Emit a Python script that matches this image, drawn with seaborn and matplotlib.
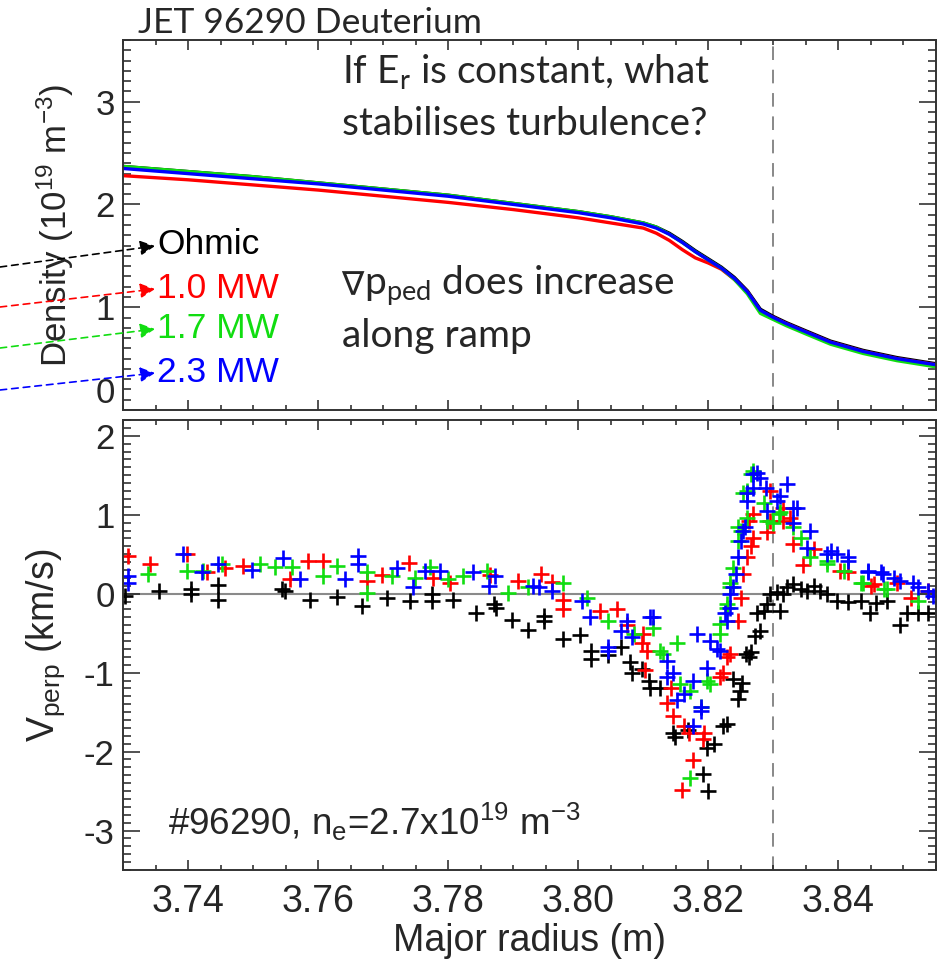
import matplotlib
matplotlib.use("Agg")
import matplotlib.pyplot as plt
import seaborn as sns
import pandas as pd
from matplotlib.ticker import MultipleLocator, FormatStrFormatter, FixedLocator

sns.set_theme(style="white")
plt.rcParams["font.family"] = ["Liberation Sans", "DejaVu Sans"]
plt.rcParams["mathtext.default"] = "regular"
plt.rcParams["axes.unicode_minus"] = False

# ---------------- data ----------------
series_names = ["Ohmic", "1.0 MW", "1.7 MW", "2.3 MW"]
series_colors = ["#000000", "#ff0000", "#11dd11", "#0000ff"]

dens_R = [3.730, 3.740, 3.750, 3.760, 3.770, 3.780, 3.790, 3.795, 3.800, 3.805,
          3.810, 3.812, 3.814, 3.816, 3.818, 3.820, 3.822, 3.824, 3.826, 3.828,
          3.830, 3.832, 3.835, 3.8388, 3.8438, 3.849, 3.855]
dens_ohmic = [2.37, 2.32, 2.27, 2.21, 2.15, 2.09, 2.01, 1.97, 1.93, 1.88,
              1.82, 1.78, 1.72, 1.64, 1.55, 1.47, 1.39, 1.29, 1.16, 0.98,
              0.91, 0.85, 0.77, 0.67, 0.58, 0.51, 0.45]
dens_10 = [2.28, 2.24, 2.19, 2.14, 2.08, 2.02, 1.95, 1.91, 1.87, 1.82,
           1.77, 1.72, 1.65, 1.56, 1.48, 1.43, 1.37, 1.27, 1.15, 0.96,
           0.90, 0.84, 0.76, 0.66, 0.57, 0.50, 0.44]
dens_17 = [2.37, 2.32, 2.27, 2.21, 2.15, 2.09, 2.01, 1.97, 1.93, 1.88,
           1.82, 1.78, 1.71, 1.63, 1.54, 1.46, 1.38, 1.27, 1.13, 0.94,
           0.88, 0.82, 0.74, 0.64, 0.55, 0.48, 0.42]
dens_23 = [2.35, 2.30, 2.25, 2.20, 2.14, 2.08, 2.00, 1.96, 1.92, 1.87,
           1.81, 1.77, 1.71, 1.63, 1.54, 1.46, 1.38, 1.28, 1.15, 0.97,
           0.90, 0.84, 0.76, 0.66, 0.57, 0.50, 0.44]

vperp_ohmic = [(3.7303, -0.03), (3.7355, 0.04), (3.7405, 0.06), (3.7405, -0.01), (3.7446, 0.11),
               (3.7446, -0.08), (3.7545, 0.06), (3.7549, 0.03), (3.7588, -0.08), (3.7629, -0.04),
               (3.7668, -0.16), (3.7706, -0.06), (3.7742, -0.09), (3.7775, 0.00), (3.7775, -0.09),
               (3.7808, -0.08), (3.7842, -0.24), (3.7871, -0.13), (3.7873, -0.18), (3.7898, -0.33),
               (3.7922, -0.46), (3.7948, -0.28), (3.7948, -0.35), (3.7977, -0.58), (3.8002, -0.52),
               (3.8020, -0.72), (3.8020, -0.83), (3.8045, -0.78), (3.8065, -0.68), (3.8080, -0.87),
               (3.8083, -1.00), (3.8098, -0.95), (3.8108, -1.10), (3.8111, -1.19), (3.8126, -1.20),
               (3.8146, -1.76), (3.8149, -1.82), (3.8168, -1.73), (3.8192, -2.28), (3.8198, -1.96),
               (3.8200, -2.50), (3.8208, -1.90), (3.8223, -1.67), (3.8229, -1.65), (3.8238, -1.08),
               (3.8245, -1.33), (3.8249, -1.23), (3.8252, -1.13), (3.8258, -0.76), (3.8262, -0.80),
               (3.8265, -0.74), (3.8272, -0.53), (3.8280, -0.47), (3.8275, -0.25), (3.8285, -0.22),
               (3.8290, -0.13), (3.8295, 0.00), (3.8306, 0.02), (3.8310, -0.22), (3.8315, 0.00),
               (3.8321, 0.08), (3.8330, 0.12), (3.8342, 0.06), (3.8352, 0.04), (3.8362, 0.10),
               (3.8372, 0.04), (3.8383, 0.00), (3.8398, -0.09), (3.8414, -0.11), (3.8434, -0.09),
               (3.8449, -0.24), (3.8457, -0.12), (3.8475, -0.09), (3.8495, -0.40), (3.8506, -0.25),
               (3.8522, -0.24), (3.8538, -0.25)]

vperp_10 = [(3.7308, 0.48), (3.7342, 0.38), (3.7398, 0.50), (3.7429, 0.27), (3.7457, 0.33),
            (3.7485, 0.35), (3.7557, 0.18), (3.7585, 0.42), (3.7608, 0.42), (3.7675, 0.16),
            (3.7698, 0.24), (3.7740, 0.39), (3.7777, 0.20), (3.7803, 0.13), (3.7865, 0.24),
            (3.7908, 0.16), (3.7942, 0.25), (3.7960, 0.15), (3.7977, -0.08), (3.7977, -0.20),
            (3.8034, -0.22), (3.8060, -0.19), (3.8075, -0.40), (3.8098, -0.62), (3.8100, -0.51),
            (3.8106, -0.72), (3.8103, -0.97), (3.8137, -1.39), (3.8142, -1.20), (3.8146, -1.55),
            (3.8162, -1.67), (3.8160, -2.49), (3.8170, -1.76), (3.8177, -2.11), (3.8191, -1.84),
            (3.8193, -1.77), (3.8218, -1.06), (3.8223, -1.00), (3.8229, -0.80), (3.8234, -0.76),
            (3.8245, -0.34), (3.8250, -0.05), (3.8254, 0.25), (3.8260, 0.46), (3.8265, 0.61),
            (3.8269, 0.71), (3.8262, 0.92), (3.8269, 1.01), (3.8290, 0.78), (3.8295, 0.92),
            (3.8295, 1.30), (3.8315, 1.08), (3.8315, 0.92), (3.8326, 0.96), (3.8330, 0.63),
            (3.8345, 0.36), (3.8362, 0.56), (3.8403, 0.29), (3.8414, 0.27), (3.8450, 0.10),
            (3.8454, 0.12), (3.8490, 0.14), (3.8512, -0.05), (3.8537, 0.04)]

vperp_17 = [(3.7338, 0.25), (3.7398, 0.29), (3.7423, 0.29), (3.7452, 0.38), (3.7511, 0.38),
            (3.7534, 0.34), (3.7560, 0.34), (3.7608, 0.23), (3.7629, 0.35), (3.7675, 0.27),
            (3.7675, 0.01), (3.7714, 0.23), (3.7749, 0.20), (3.7772, 0.34), (3.7800, 0.19),
            (3.7823, 0.23), (3.7860, 0.29), (3.7892, 0.01), (3.7923, 0.08), (3.7977, 0.13),
            (3.8014, -0.05), (3.8046, -0.34), (3.8085, -0.51), (3.8115, -0.43), (3.8126, -0.72),
            (3.8131, -0.76), (3.8152, -0.62), (3.8157, -1.14), (3.8172, -1.23), (3.8188, -1.44),
            (3.8172, -2.33), (3.8198, -1.10), (3.8203, -1.14), (3.8218, -0.51), (3.8218, -0.38),
            (3.8229, -0.18), (3.8229, -0.13), (3.8234, 0.08), (3.8234, 0.13), (3.8238, 0.33),
            (3.8245, 0.67), (3.8245, 0.84), (3.8250, 0.80), (3.8254, 1.27), (3.8260, 0.96),
            (3.8260, 1.30), (3.8265, 1.52), (3.8269, 1.56), (3.8285, 1.15), (3.8290, 0.92),
            (3.8300, 0.89), (3.8308, 1.01), (3.8310, 1.03), (3.8330, 0.84), (3.8342, 0.71),
            (3.8357, 0.46), (3.8383, 0.38), (3.8383, 0.42), (3.8408, 0.29), (3.8434, 0.13),
            (3.8438, 0.13), (3.8470, 0.06), (3.8475, 0.06), (3.8522, -0.09)]

vperp_23 = [(3.7308, 0.22), (3.7308, 0.13), (3.7392, 0.50), (3.7422, 0.28), (3.7446, 0.38),
            (3.7498, 0.30), (3.7546, 0.45), (3.7572, 0.19), (3.7642, 0.18), (3.7662, 0.48),
            (3.7662, 0.37), (3.7722, 0.32), (3.7746, 0.08), (3.7765, 0.29), (3.7788, 0.29),
            (3.7838, 0.27), (3.7862, 0.10), (3.7872, 0.22), (3.7931, 0.10), (3.7940, 0.08),
            (3.7960, 0.04), (3.8006, -0.09), (3.8018, -0.29), (3.8045, -0.72), (3.8046, -0.67),
            (3.8065, -0.47), (3.8075, -0.34), (3.8082, -0.55), (3.8111, -0.30), (3.8115, -0.30),
            (3.8137, -0.85), (3.8137, -1.06), (3.8146, -1.00), (3.8152, -1.35), (3.8162, -1.27),
            (3.8177, -1.10), (3.8177, -1.67), (3.8183, -0.51), (3.8188, -1.48), (3.8188, -1.44),
            (3.8198, -0.94), (3.8203, -0.60), (3.8214, -0.70), (3.8218, -0.72), (3.8226, -0.25),
            (3.8229, -0.34), (3.8234, -0.18), (3.8234, 0.00), (3.8238, 0.08), (3.8242, 0.25),
            (3.8245, 0.46), (3.8250, 0.67), (3.8254, 0.80), (3.8257, 0.84), (3.8260, 1.18),
            (3.8260, 1.27), (3.8269, 1.52), (3.8269, 1.34), (3.8275, 1.53), (3.8280, 1.47),
            (3.8288, 1.34), (3.8290, 1.05), (3.8306, 1.18), (3.8310, 1.24), (3.8321, 1.39),
            (3.8330, 1.09), (3.8330, 0.89), (3.8337, 1.09), (3.8352, 0.58), (3.8357, 0.80),
            (3.8383, 0.50), (3.8388, 0.54), (3.8398, 0.50), (3.8414, 0.46), (3.8414, 0.42),
            (3.8445, 0.27), (3.8445, 0.29), (3.8465, 0.27), (3.8469, 0.25), (3.8485, 0.20),
            (3.8495, 0.16), (3.8515, 0.13), (3.8522, 0.08), (3.8537, 0.04), (3.8546, -0.03)]

sep_R = 3.83
xlim = (3.73, 3.855)
dens_ylim = (0, 3.6)
dens_yticks = [0, 1, 2, 3]
vperp_ylim = (-3.5, 2.2)
vperp_yticks = [-3, -2, -1, 0, 1, 2]

# ---------------- figure ----------------
W, H = 945, 966
fig = plt.figure(figsize=(W / 100, H / 100), dpi=100)
ax1 = fig.add_axes([123 / W, 1 - 410 / H, (936 - 123) / W, (410 - 40) / H])
ax2 = fig.add_axes([123 / W, 1 - 870 / H, (936 - 123) / W, (870 - 420) / H])

dens_sets = [dens_ohmic, dens_10, dens_17, dens_23]
for vals, c in zip(dens_sets, series_colors):
    df = pd.DataFrame({"R": dens_R, "n": vals})
    sns.lineplot(data=df, x="R", y="n", color=c, lw=2.4, ax=ax1)

vp_sets = [vperp_ohmic, vperp_10, vperp_17, vperp_23]
ax2.axhline(0, color="#8a8a8a", lw=1.5, zorder=0)
for pts, c in zip(vp_sets, series_colors):
    df = pd.DataFrame(pts, columns=["R", "V"])
    sns.scatterplot(data=df, x="R", y="V", marker="+", s=140, color=c,
                    linewidth=1.9, ax=ax2)

for ax in (ax1, ax2):
    ax.axvline(sep_R, color="#888888", lw=1.4, dashes=(7, 5), zorder=0)
    ax.set_xlim(*xlim)
    ax.xaxis.set_major_locator(MultipleLocator(0.02))
    ax.xaxis.set_minor_locator(MultipleLocator(0.005))
    ax.yaxis.set_minor_locator(MultipleLocator(0.1))
    ax.tick_params(which="both", direction="in", top=True, right=True,
                   bottom=True, left=True, color="#222222", width=1.1)
    ax.tick_params(axis="x", which="major", length=7)
    ax.tick_params(axis="x", which="minor", length=3.5)
    ax.tick_params(axis="y", which="major", length=12, labelsize=25, pad=6)
    ax.tick_params(axis="y", which="minor", length=6)
    for s in ax.spines.values():
        s.set_color("#333333")
        s.set_linewidth(1.4)
    ax.set_xlabel("")
    ax.set_ylabel("")

ax1.set_ylim(*dens_ylim)
ax1.yaxis.set_major_locator(FixedLocator(dens_yticks))
ax2.set_ylim(*vperp_ylim)
ax2.yaxis.set_major_locator(FixedLocator(vperp_yticks))
ax1.tick_params(labelbottom=False)
ax2.tick_params(axis="x", labelsize=27, pad=10)
ax2.xaxis.set_major_formatter(FormatStrFormatter("%.2f"))

ax1.set_ylabel(r"Density (10$^{19}$ m$^{-3}$)", fontsize=25, labelpad=14)
ax2.set_ylabel(r"V$_{perp}$ (km/s)", fontsize=27, labelpad=12)
ax2.set_xlabel("Major radius (m)", fontsize=27, labelpad=2)

# keep the lowest density tick label inside the panel, as in the original
fig.canvas.draw()
ax1.yaxis.get_major_ticks()[0].label1.set_verticalalignment("bottom")

# titles / annotations
cal = ["Lato", "DejaVu Sans"]
fig.text(138 / W, 1 - 33 / H, "JET 96290 Deuterium", fontsize=25.5, family=cal, va="baseline")
fig.text(342 / W, 1 - 83 / H, r"If E$_r$ is constant, what", fontsize=28, family=cal, va="baseline")
fig.text(342 / W, 1 - 135 / H, "stabilises turbulence?", fontsize=28, family=cal, va="baseline")
fig.text(341 / W, 1 - 295 / H, "∇", fontsize=24, family="DejaVu Sans", va="baseline")
fig.text(364 / W, 1 - 295 / H, r"p$_{ped}$ does increase", fontsize=28, family=cal, va="baseline")
fig.text(342 / W, 1 - 347 / H, "along ramp", fontsize=28, family=cal, va="baseline")
fig.text(168 / W, 1 - 835 / H, r"#96290, n$_e$=2.7x10$^{19}$ m$^{-3}$", fontsize=26.5, va="baseline")

# legend with dashed arrows from the left edge
label_y = [245, 288, 328, 372]
start_y = [267, 307, 348, 390]
for name, c, ly, sy in zip(series_names, series_colors, label_y, start_y):
    fig.text(157 / W, 1 - ly / H, name, fontsize=25.5, color=c, va="center")
    ax1.annotate("", xy=(155 / W, 1 - (ly + 1) / H), xycoords="figure fraction",
                 xytext=(0, 1 - sy / H), textcoords="figure fraction",
                 arrowprops=dict(arrowstyle="-|>", color=c, lw=1.2, linestyle=(0, (4, 3)),
                                 mutation_scale=22, shrinkA=0, shrinkB=0),
                 annotation_clip=False)

fig.savefig("out.png", dpi=100)
